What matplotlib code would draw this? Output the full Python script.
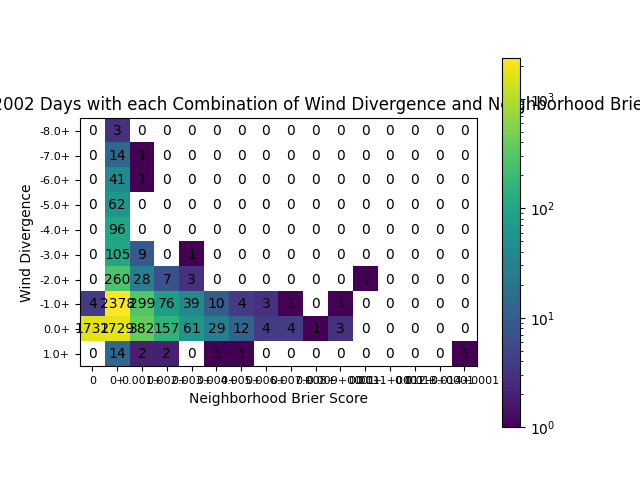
import numpy as np
import matplotlib
matplotlib.use("Agg")
import matplotlib.pyplot as plt
from matplotlib.colors import LogNorm

x_labels = ["0", "0+", "0.001+", "0.002+", "0.003+", "0.004+", "0.005+", "0.006+",
            "0.007+", "0.008+", "0.009+0001", "0.01+", "0.011+0001", "0.012+", "0.013+0001", "0.014+0001"]
y_labels = ["-8.0+", "-7.0+", "-6.0+", "-5.0+", "-4.0+", "-3.0+", "-2.0+", "-1.0+", "0.0+", "1.0+"]
row_m8 = [0, 3, 0, 0, 0, 0, 0, 0, 0, 0, 0, 0, 0, 0, 0, 0]
row_m7 = [0, 14, 1, 0, 0, 0, 0, 0, 0, 0, 0, 0, 0, 0, 0, 0]
row_m6 = [0, 41, 1, 0, 0, 0, 0, 0, 0, 0, 0, 0, 0, 0, 0, 0]
row_m5 = [0, 62, 0, 0, 0, 0, 0, 0, 0, 0, 0, 0, 0, 0, 0, 0]
row_m4 = [0, 96, 0, 0, 0, 0, 0, 0, 0, 0, 0, 0, 0, 0, 0, 0]
row_m3 = [0, 105, 9, 0, 1, 0, 0, 0, 0, 0, 0, 0, 0, 0, 0, 0]
row_m2 = [0, 260, 28, 7, 3, 0, 0, 0, 0, 0, 0, 1, 0, 0, 0, 0]
row_m1 = [4, 2378, 299, 76, 39, 10, 4, 3, 1, 0, 1, 0, 0, 0, 0, 0]
row_0 = [1732, 1729, 382, 157, 61, 29, 12, 4, 4, 1, 3, 0, 0, 0, 0, 0]
row_1 = [0, 14, 2, 2, 0, 1, 1, 0, 0, 0, 0, 0, 0, 0, 0, 1]
counts = np.array([row_m8, row_m7, row_m6, row_m5, row_m4, row_m3, row_m2, row_m1, row_0, row_1])

fig, ax = plt.subplots(figsize=(6.4, 4.8), dpi=100)
im = ax.imshow(np.ma.masked_equal(counts, 0), cmap="viridis", norm=LogNorm(vmin=1, vmax=counts.max()))
for (i, j), v in np.ndenumerate(counts):
    ax.text(j, i, str(v), ha="center", va="center", color="black")
ax.set_xticks(range(len(x_labels)))
ax.set_xticklabels(x_labels, fontsize=8)
ax.set_yticks(range(len(y_labels)))
ax.set_yticklabels(y_labels, fontsize=8)
ax.set_xlabel("Neighborhood Brier Score")
ax.set_ylabel("Wind Divergence")
ax.set_title("Number of Total 2002 Days with each Combination of Wind Divergence and Neighborhood Brier Score")
fig.colorbar(im, ax=ax)
fig.savefig("out.png", dpi=100)
